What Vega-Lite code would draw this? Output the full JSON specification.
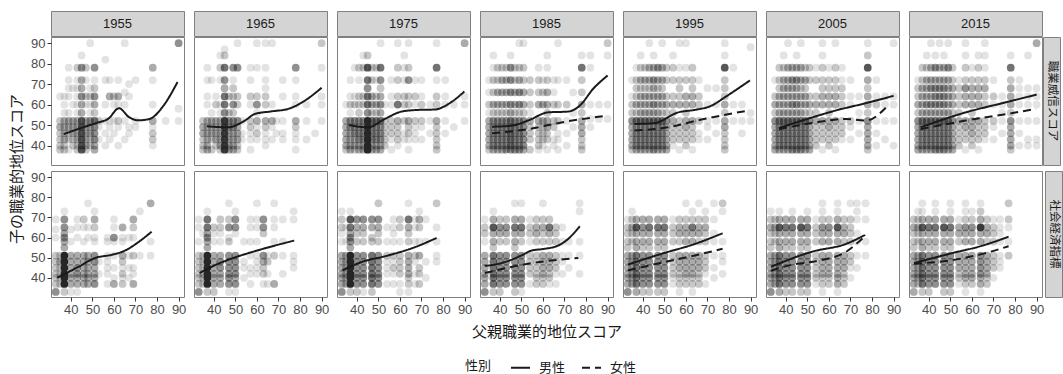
{
"$schema":"https://vega.github.io/schema/vega-lite/v6.json",
"padding":{"left":9,"top":10,"right":0,"bottom":0},
"autosize":{"type":"pad"},
"datasets":{
"pts":[
{"p":"P55","x":35,"y":[38,40,43,46,49,52,64],"n":[2,2,2,2,3,2,1]},
{"p":"P55","x":37,"y":[38,40,43,46,49,52,56,60,64],"n":[2,2,3,3,3,3,1,1,1]},
{"p":"P55","x":39,"y":[38,43,46,49,52,56,64,68,72,78],"n":[1,2,2,3,3,1,1,1,1,1]},
{"p":"P55","x":41,"y":[40,43,46,49,52,60,68],"n":[2,2,3,3,3,1,1]},
{"p":"P55","x":43,"y":[38,40,43,46,49,52,56,60,64,68,72,78],"n":[2,2,3,3,3,3,1,1,1,1,1,2]},
{"p":"P55","x":45,"y":[38,40,43,46,49,52,56,60,64,68,72,78,84],"n":[6,6,6,6,6,6,3,3,4,3,3,4,1]},
{"p":"P55","x":47,"y":[38,40,43,46,49,52,60,64,72,78],"n":[2,3,3,3,3,3,1,2,1,2]},
{"p":"P55","x":49,"y":[40,43,46,49,52,56,60,64,68,90],"n":[2,2,3,3,4,1,1,2,1,1]},
{"p":"P55","x":51,"y":[38,40,43,46,49,52,56,60,64,68,72,78],"n":[3,3,4,4,4,5,2,3,4,2,1,4]},
{"p":"P55","x":53,"y":[43,49,52],"n":[1,1,2]},
{"p":"P55","x":56,"y":[40,46,52,60,72,82],"n":[1,1,1,1,1,1]},
{"p":"P55","x":58,"y":[43,49,52,64,72],"n":[1,1,1,3,1]},
{"p":"P55","x":60,"y":[46,52,60,64],"n":[1,1,1,2]},
{"p":"P55","x":62,"y":[40,49,52,60,64,72],"n":[1,1,2,1,3,1]},
{"p":"P55","x":65,"y":[43,52,60,66,90],"n":[1,1,1,1,1]},
{"p":"P55","x":67,"y":[46,49,64,70],"n":[1,1,1,1]},
{"p":"P55","x":70,"y":[49,52,72],"n":[1,1,1]},
{"p":"P55","x":78,"y":[40,43,46,49,52,60,72,78],"n":[1,2,2,1,3,1,1,3]},
{"p":"P55","x":84,"y":[52],"n":[1]},
{"p":"P55","x":90,"y":[52,58,90],"n":[1,1,4]},
{"p":"P65","x":35,"y":[38,40,43,46,49,52],"n":[2,2,2,3,3,2]},
{"p":"P65","x":37,"y":[38,40,43,46,49,52,60,64,72,78],"n":[3,3,3,3,3,3,1,1,1,1]},
{"p":"P65","x":39,"y":[38,43,46,49,52,56,72],"n":[2,2,3,3,3,1,1]},
{"p":"P65","x":41,"y":[40,43,46,49,52,60,64],"n":[2,3,3,3,3,2,1]},
{"p":"P65","x":43,"y":[38,40,43,46,49,52,56,60,72,78,84],"n":[2,3,3,3,3,3,1,1,1,2,1]},
{"p":"P65","x":45,"y":[38,40,43,46,49,52,56,60,64,68,72,78,84,87],"n":[7,7,7,7,7,7,4,5,5,3,4,5,2,1]},
{"p":"P65","x":47,"y":[38,40,43,46,49,52,56,64],"n":[3,3,3,3,4,4,2,2]},
{"p":"P65","x":49,"y":[38,40,43,46,49,52,56,60,64,68,72,78],"n":[3,3,3,3,4,4,2,4,2,2,1,4]},
{"p":"P65","x":51,"y":[38,40,43,46,49,52,60,64,78,90],"n":[2,2,3,3,3,4,2,2,4,1]},
{"p":"P65","x":53,"y":[43,46,52],"n":[1,1,1]},
{"p":"P65","x":57,"y":[38,43,46,49,52,60,64,72,78],"n":[1,1,1,2,2,1,2,1,1]},
{"p":"P65","x":60,"y":[43,46,49,52,56,60,64,78,90],"n":[1,2,1,3,1,4,2,1,1]},
{"p":"P65","x":64,"y":[40,43,46,49,52,60,64,68,72,78,90],"n":[1,1,1,2,3,2,2,1,1,1,1]},
{"p":"P65","x":67,"y":[43,49,52,60,90],"n":[1,1,3,1,1]},
{"p":"P65","x":69,"y":[46,52],"n":[1,1]},
{"p":"P65","x":72,"y":[43,46,52,64,72],"n":[1,1,1,1,1]},
{"p":"P65","x":78,"y":[38,43,46,49,52,60,64,72,78],"n":[1,1,1,2,3,1,1,1,4]},
{"p":"P65","x":83,"y":[43,52,60],"n":[1,1,1]},
{"p":"P65","x":87,"y":[46],"n":[1]},
{"p":"P65","x":90,"y":[52,60,64,78,90],"n":[1,1,1,1,2]},
{"p":"P75","x":35,"y":[38,40,43,46,49,52,60],"n":[2,3,3,3,3,3,1]},
{"p":"P75","x":37,"y":[38,40,43,46,49,52,56,60,64,72],"n":[3,3,3,3,4,4,1,2,1,1]},
{"p":"P75","x":39,"y":[38,40,43,46,49,52,60,64,78],"n":[2,3,3,4,4,4,2,1,1]},
{"p":"P75","x":41,"y":[38,40,43,46,49,52,56,60,64,72,78],"n":[3,3,4,4,4,4,2,2,2,1,2]},
{"p":"P75","x":43,"y":[38,40,43,46,49,52,60,64,78,84],"n":[3,3,4,4,4,4,2,2,2,1]},
{"p":"P75","x":45,"y":[38,40,43,46,49,52,56,60,64,68,72,78,84],"n":[8,8,8,8,8,8,4,5,5,4,5,6,2]},
{"p":"P75","x":47,"y":[38,40,43,46,49,52,56,60,64,72,78],"n":[3,3,4,4,4,5,2,3,3,2,2]},
{"p":"P75","x":49,"y":[38,40,43,46,49,52,56,60,64,72,78],"n":[3,3,4,4,4,5,2,3,2,1,2]},
{"p":"P75","x":51,"y":[38,40,43,46,49,52,56,60,64,68,72,78,90],"n":[3,3,4,4,4,5,3,4,3,2,4,5,1]},
{"p":"P75","x":53,"y":[40,43,46,49,52,60],"n":[2,2,2,2,2,1]},
{"p":"P75","x":56,"y":[38,43,46,49,52,60,64,72],"n":[1,1,2,2,2,1,1,1]},
{"p":"P75","x":59,"y":[40,43,46,49,52,60,64,72,78,90],"n":[1,2,2,2,3,5,2,2,2,1]},
{"p":"P75","x":62,"y":[43,46,52,60,64,72,78,84],"n":[1,1,2,2,2,1,1,1]},
{"p":"P75","x":64,"y":[38,43,46,49,52,60,64,72,78,90],"n":[1,1,2,2,3,2,2,4,2,1]},
{"p":"P75","x":67,"y":[43,46,49,52,60,64,72],"n":[1,1,1,2,1,2,1]},
{"p":"P75","x":70,"y":[43,49,52,60,64,72],"n":[1,1,2,2,1,1]},
{"p":"P75","x":74,"y":[46,52,60],"n":[1,1,1]},
{"p":"P75","x":77,"y":[38,40,43,46,49,52,60,64,72,78,90],"n":[2,2,2,2,2,3,2,2,1,5,1]},
{"p":"P75","x":81,"y":[46,52,60,64,72],"n":[1,1,1,1,1]},
{"p":"P75","x":85,"y":[49,60],"n":[1,1]},
{"p":"P75","x":90,"y":[52,60,64,90],"n":[1,1,1,3]},
{"p":"P85","x":35,"y":[38,40,43,46,49,52,56,60,66,72],"n":[2,3,3,3,3,3,1,2,1,1]},
{"p":"P85","x":37,"y":[38,40,43,46,49,52,56,60,66,72,78,84],"n":[3,4,4,4,4,4,2,3,2,2,1,1]},
{"p":"P85","x":39,"y":[38,40,43,46,49,52,56,60,66,72,78],"n":[3,4,4,4,4,4,2,3,3,2,2]},
{"p":"P85","x":41,"y":[38,40,43,46,49,52,56,60,66,72,78],"n":[3,4,4,4,4,4,2,3,3,3,2]},
{"p":"P85","x":43,"y":[38,40,43,46,49,52,56,60,66,72,78],"n":[4,4,4,4,4,4,2,3,3,3,2]},
{"p":"P85","x":45,"y":[38,40,43,46,49,52,56,60,66,72,78,84],"n":[4,5,5,5,5,5,3,4,4,4,4,1]},
{"p":"P85","x":47,"y":[38,40,43,46,49,52,56,60,66,72,78],"n":[4,4,4,4,4,4,2,3,3,2,2]},
{"p":"P85","x":49,"y":[38,40,43,46,49,52,56,60,66,72,78,90],"n":[4,4,4,4,4,4,2,4,4,3,2,1]},
{"p":"P85","x":51,"y":[38,40,43,46,49,52,56,60,66,72,78,90],"n":[3,4,4,4,4,4,2,3,3,2,2,1]},
{"p":"P85","x":54,"y":[38,43,46,49,52,56,60,66,72],"n":[2,2,2,2,3,1,2,2,2]},
{"p":"P85","x":58,"y":[38,40,43,46,49,52,60,66,72,78],"n":[1,2,2,2,2,3,3,2,2,1]},
{"p":"P85","x":60,"y":[40,43,46,49,52,60,66,72],"n":[1,2,2,2,3,3,2,1]},
{"p":"P85","x":62,"y":[38,43,46,49,52,56,60,66,72,78,84],"n":[1,2,2,3,3,2,3,3,2,1,1]},
{"p":"P85","x":65,"y":[40,43,49,52,60,66,72],"n":[1,1,2,2,2,1,1]},
{"p":"P85","x":67,"y":[38,43,46,52,60,72,90],"n":[1,1,1,2,2,1,1]},
{"p":"P85","x":71,"y":[40,46,52,60,72],"n":[1,1,1,2,1]},
{"p":"P85","x":74,"y":[49,56,66],"n":[1,1,1]},
{"p":"P85","x":78,"y":[38,40,43,46,49,52,56,60,66,72,78,84],"n":[2,2,2,3,3,3,2,3,2,2,5,1]},
{"p":"P85","x":82,"y":[49,53,60,78,84],"n":[1,1,1,1,1]},
{"p":"P85","x":86,"y":[53,60],"n":[1,1]},
{"p":"P85","x":90,"y":[53,60,84,90],"n":[1,1,1,2]},
{"p":"P95","x":35,"y":[38,40,43,46,49,52,56,60,64,72],"n":[2,3,3,3,3,4,2,2,1,1]},
{"p":"P95","x":37,"y":[38,40,43,46,49,52,56,60,64,68,72,78],"n":[3,4,4,4,4,5,2,3,2,2,2,1]},
{"p":"P95","x":39,"y":[38,40,43,46,49,52,56,60,64,68,72,78,84],"n":[3,4,4,4,4,5,3,3,3,2,3,2,1]},
{"p":"P95","x":41,"y":[38,40,43,46,49,52,56,60,64,68,72,78],"n":[3,4,4,4,4,5,3,3,3,2,3,2]},
{"p":"P95","x":43,"y":[38,40,43,46,49,52,56,60,64,68,72,78,90],"n":[3,4,4,4,4,5,3,3,3,2,3,3,1]},
{"p":"P95","x":45,"y":[38,40,43,46,49,52,56,60,64,68,72,78,84],"n":[4,4,4,4,4,5,3,4,3,3,4,3,1]},
{"p":"P95","x":47,"y":[38,40,43,46,49,52,56,60,64,68,72,78],"n":[3,4,4,4,4,5,3,3,3,2,3,4]},
{"p":"P95","x":49,"y":[38,40,43,46,49,52,56,60,64,68,72,78,90],"n":[3,4,4,4,4,5,2,3,3,2,3,3,1]},
{"p":"P95","x":51,"y":[38,40,43,46,49,52,56,60,64,72,78],"n":[3,3,3,3,3,4,2,3,2,2,2]},
{"p":"P95","x":54,"y":[40,43,46,49,52,56,60,64,72,78,84],"n":[1,2,2,2,3,2,3,2,2,2,1]},
{"p":"P95","x":57,"y":[38,43,46,49,52,60,64,68,72,78,90],"n":[1,2,2,2,2,3,2,2,2,1,1]},
{"p":"P95","x":60,"y":[40,43,46,49,52,56,60,64,72,78,90],"n":[2,2,2,3,3,2,3,3,2,1,1]},
{"p":"P95","x":63,"y":[38,43,46,49,52,60,64,68,72,78],"n":[1,2,2,2,3,3,3,2,2,2]},
{"p":"P95","x":66,"y":[43,46,52,60,64,72],"n":[1,1,2,2,2,1]},
{"p":"P95","x":70,"y":[43,49,52,60,68],"n":[1,1,1,1,1]},
{"p":"P95","x":74,"y":[46,52,60,68],"n":[1,1,1,1]},
{"p":"P95","x":78,"y":[38,40,43,46,49,52,56,60,64,68,72,78,84,90],"n":[2,2,2,2,3,3,2,3,2,2,2,6,1,1]},
{"p":"P95","x":82,"y":[52,60,78],"n":[1,1,1]},
{"p":"P95","x":86,"y":[46,52,60],"n":[1,1,1]},
{"p":"P95","x":90,"y":[52,56,88],"n":[1,1,1]},
{"p":"P05","x":35,"y":[38,40,43,46,49,52,56,60,64,72],"n":[3,3,3,3,3,4,2,3,2,1]},
{"p":"P05","x":37,"y":[38,40,43,46,49,52,56,60,64,68,72,78],"n":[3,4,4,4,4,5,3,3,3,2,2,2]},
{"p":"P05","x":39,"y":[38,40,43,46,49,52,56,60,64,68,72,78,84],"n":[3,4,4,4,4,5,3,3,3,3,3,2,1]},
{"p":"P05","x":41,"y":[38,40,43,46,49,52,56,60,64,68,72,78,90],"n":[3,4,4,4,4,5,3,3,3,3,3,3,1]},
{"p":"P05","x":43,"y":[38,40,43,46,49,52,56,60,64,68,72,78],"n":[4,4,4,4,4,5,3,4,3,3,4,3]},
{"p":"P05","x":45,"y":[38,40,43,46,49,52,56,60,64,68,72,78,84],"n":[4,4,4,4,4,5,3,4,3,3,4,3,1]},
{"p":"P05","x":47,"y":[38,40,43,46,49,52,56,60,64,68,72,78,90],"n":[4,4,4,4,4,5,3,3,3,2,3,3,1]},
{"p":"P05","x":49,"y":[38,40,43,46,49,52,56,60,64,68,72,78],"n":[3,4,4,4,4,5,2,3,3,2,3,2]},
{"p":"P05","x":51,"y":[38,40,43,46,49,52,56,60,64,72,78],"n":[3,3,3,3,3,4,2,3,2,2,2]},
{"p":"P05","x":54,"y":[40,43,46,49,52,56,60,64,72,78],"n":[2,2,2,2,3,2,3,2,2,1]},
{"p":"P05","x":57,"y":[38,43,46,49,52,60,64,68,72,78,84,90],"n":[1,2,2,2,3,3,3,2,2,2,1,1]},
{"p":"P05","x":60,"y":[40,43,46,49,52,56,60,64,68,72,78],"n":[2,2,2,3,3,2,3,3,2,2,1]},
{"p":"P05","x":63,"y":[38,43,46,49,52,60,64,68,72,78,90],"n":[1,2,2,2,3,3,3,2,2,2,1]},
{"p":"P05","x":66,"y":[43,46,49,52,60,64,68,72,78],"n":[1,2,2,2,2,2,2,1,1]},
{"p":"P05","x":70,"y":[43,49,52,60,64,72],"n":[1,1,2,1,1,1]},
{"p":"P05","x":74,"y":[46,52,56,64],"n":[1,1,1,1]},
{"p":"P05","x":78,"y":[38,40,43,46,49,52,56,60,64,68,72,78,84,90],"n":[2,3,3,3,3,4,2,3,3,2,3,6,2,1]},
{"p":"P05","x":82,"y":[40,46,52,60,64,72],"n":[1,1,1,2,1,1]},
{"p":"P05","x":86,"y":[43,52,60,64],"n":[1,1,1,1]},
{"p":"P05","x":90,"y":[40,52,60,64,90],"n":[1,1,1,1,1]},
{"p":"P15","x":35,"y":[38,40,43,46,49,52,56,60,64,68,72],"n":[3,3,3,3,3,4,2,3,2,2,1]},
{"p":"P15","x":37,"y":[38,40,43,46,49,52,56,60,64,68,72,78],"n":[3,4,4,4,4,5,3,3,3,3,2,2]},
{"p":"P15","x":39,"y":[38,40,43,46,49,52,56,60,64,68,72,78,84],"n":[3,4,4,4,4,5,3,4,3,3,3,2,1]},
{"p":"P15","x":41,"y":[38,40,43,46,49,52,56,60,64,68,72,78,90],"n":[3,4,4,4,4,5,3,4,3,4,3,3,1]},
{"p":"P15","x":43,"y":[38,40,43,46,49,52,56,60,64,68,72,78,84],"n":[4,4,4,4,4,5,3,4,4,4,3,4,1]},
{"p":"P15","x":45,"y":[38,40,43,46,49,52,56,60,64,68,72,78,90],"n":[4,4,4,4,4,5,3,4,4,4,3,3,1]},
{"p":"P15","x":47,"y":[38,40,43,46,49,52,56,60,64,68,72,78,84],"n":[4,4,4,4,4,5,3,4,4,4,3,3,1]},
{"p":"P15","x":49,"y":[38,40,43,46,49,52,56,60,64,68,72,78,90],"n":[3,4,4,4,4,5,3,3,3,3,3,4,1]},
{"p":"P15","x":51,"y":[38,40,43,46,49,52,56,60,64,68,72,78],"n":[3,3,3,3,3,4,2,3,3,3,2,2]},
{"p":"P15","x":54,"y":[40,43,46,49,52,56,60,64,68,72],"n":[2,2,2,2,3,2,2,2,2,1]},
{"p":"P15","x":57,"y":[38,43,46,49,52,60,64,68,72,78,84,90],"n":[1,2,2,3,3,3,3,4,2,2,1,1]},
{"p":"P15","x":60,"y":[40,43,46,49,52,56,60,64,68,72,78],"n":[2,2,3,3,3,2,3,3,3,2,1]},
{"p":"P15","x":63,"y":[38,43,46,49,52,60,64,68,72,78,84],"n":[1,2,2,2,3,3,3,3,2,2,1]},
{"p":"P15","x":66,"y":[43,46,49,52,60,64,68,72,78,84,90],"n":[1,2,2,2,2,2,3,2,1,1,1]},
{"p":"P15","x":70,"y":[43,49,52,60,64,72],"n":[1,1,2,1,2,1]},
{"p":"P15","x":74,"y":[46,52,56,60,64],"n":[1,1,1,1,1]},
{"p":"P15","x":78,"y":[38,40,43,46,49,52,56,60,64,68,72,78,84],"n":[2,3,3,3,3,4,2,3,3,3,2,5,1]},
{"p":"P15","x":82,"y":[40,46,52,60,64,68,72],"n":[1,1,1,1,1,1,1]},
{"p":"P15","x":86,"y":[40,43,52,60,64,68,84],"n":[1,1,1,1,1,1,1]},
{"p":"P15","x":90,"y":[40,43,52,60,64,68,90],"n":[1,1,1,1,1,1,3]},
{"p":"S55","x":33,"y":[33,37,40,42,45,48,51,60,64,69],"n":[4,2,2,2,2,2,2,1,1,1]},
{"p":"S55","x":35,"y":[37,40,42,45,48,51],"n":[2,2,2,2,3,2]},
{"p":"S55","x":37,"y":[33,37,40,42,45,48,51,55,58,60,62,65,69,73],"n":[2,8,8,8,8,8,8,3,3,4,3,4,4,1]},
{"p":"S55","x":40,"y":[33,37,40,42,45,48,51,58,64],"n":[1,3,3,3,3,3,3,1,1]},
{"p":"S55","x":43,"y":[33,37,40,42,45,48,51,60,65,69],"n":[1,3,3,4,4,3,3,1,1,1]},
{"p":"S55","x":46,"y":[37,40,42,45,48,51,58,65,69],"n":[3,3,3,3,3,3,1,1,2]},
{"p":"S55","x":48,"y":[37,40,42,45,48,51,60,65,77],"n":[3,3,3,3,3,3,1,1,1]},
{"p":"S55","x":51,"y":[37,40,42,45,48,51,58,60,65,69,73],"n":[4,3,3,3,4,4,1,1,2,3,1]},
{"p":"S55","x":53,"y":[42,48],"n":[1,1]},
{"p":"S55","x":57,"y":[37,42,45,48,51,58,60],"n":[1,1,1,1,1,1,1]},
{"p":"S55","x":60,"y":[37,40,45,51,58,60,65,69],"n":[3,1,1,1,1,4,1,1]},
{"p":"S55","x":64,"y":[37,40,42,45,48,51,58,60,65],"n":[2,1,2,1,2,3,1,1,3]},
{"p":"S55","x":67,"y":[40,45,51,60],"n":[1,1,1,1]},
{"p":"S55","x":69,"y":[37,42,45,51,60,65,69],"n":[3,1,1,2,1,2,3]},
{"p":"S55","x":72,"y":[51,73],"n":[1,1]},
{"p":"S55","x":77,"y":[51,58,77],"n":[1,1,3]},
{"p":"S65","x":33,"y":[33,37,40,42,45,48,51,58,65,69],"n":[4,2,2,2,2,2,2,1,1,1]},
{"p":"S65","x":35,"y":[37,40,42,45,48,51,62],"n":[2,2,2,2,2,2,1]},
{"p":"S65","x":37,"y":[33,37,40,42,45,48,51,55,58,60,62,65,69,73],"n":[2,8,8,8,8,8,8,3,3,4,3,5,5,1]},
{"p":"S65","x":40,"y":[33,37,40,42,45,48,51,58,62,65],"n":[2,3,3,3,3,3,3,1,1,2]},
{"p":"S65","x":43,"y":[37,40,42,45,48,51,58,62,65,69],"n":[3,3,3,4,4,3,1,1,2,2]},
{"p":"S65","x":47,"y":[33,37,40,42,45,48,51,58,60,65,69,77],"n":[1,4,4,4,4,4,4,2,1,4,2,1]},
{"p":"S65","x":50,"y":[33,37,40,42,45,48,51,62,65,69,73],"n":[1,4,3,4,4,4,4,1,4,4,1]},
{"p":"S65","x":54,"y":[40,45,48,58],"n":[1,1,1,1]},
{"p":"S65","x":57,"y":[37,42,45,51,58,65,69],"n":[1,1,1,1,1,1,1]},
{"p":"S65","x":60,"y":[42,45,48,51,58,65,69,77],"n":[1,1,1,1,1,1,1,1]},
{"p":"S65","x":63,"y":[37,42,45,48,51,62,65,69],"n":[1,2,2,3,4,2,4,4]},
{"p":"S65","x":65,"y":[37,42,48,51],"n":[1,1,2,1]},
{"p":"S65","x":68,"y":[37,51,58,65,69,77],"n":[3,2,1,1,1,1]},
{"p":"S65","x":72,"y":[42,51,58,69],"n":[1,1,1,1]},
{"p":"S65","x":77,"y":[45,48,51,69,73],"n":[1,1,1,1,1]},
{"p":"S75","x":33,"y":[33,37,40,42,45,48,51,58,62,65,69,73],"n":[4,3,3,3,3,3,3,1,1,2,2,1]},
{"p":"S75","x":35,"y":[37,40,42,45,48,51,58,65],"n":[3,3,3,3,3,3,1,1]},
{"p":"S75","x":37,"y":[33,37,40,42,45,48,51,55,58,60,62,65,69,73],"n":[2,8,8,8,8,8,8,3,4,4,3,5,6,1]},
{"p":"S75","x":40,"y":[33,37,40,42,45,48,51,58,62,65,69],"n":[2,4,4,4,4,4,4,2,2,3,4]},
{"p":"S75","x":43,"y":[33,37,40,42,45,48,51,58,62,65,69],"n":[1,4,4,4,4,4,4,2,2,3,4]},
{"p":"S75","x":47,"y":[33,37,40,42,45,48,51,58,60,65,69],"n":[2,5,5,5,5,5,5,2,2,3,4]},
{"p":"S75","x":50,"y":[37,40,42,45,48,51,58,62,65,69,77],"n":[4,4,4,4,4,4,2,2,3,4,2]},
{"p":"S75","x":54,"y":[37,42,45,48,51,58,65],"n":[1,1,1,1,2,1,1]},
{"p":"S75","x":57,"y":[37,42,45,48,51,58,62,65,69],"n":[1,1,2,1,2,1,1,1,1]},
{"p":"S75","x":60,"y":[33,37,42,45,48,51,58,65,69],"n":[1,1,2,2,2,2,1,2,2]},
{"p":"S75","x":64,"y":[33,37,40,42,45,48,51,58,62,65,69,77],"n":[1,2,2,3,3,3,3,2,2,3,5,1]},
{"p":"S75","x":67,"y":[37,42,48,51,58,65,69],"n":[1,1,1,2,1,1,1]},
{"p":"S75","x":69,"y":[37,42,45,51,58,65,69,73],"n":[2,2,2,3,1,2,3,1]},
{"p":"S75","x":72,"y":[40,48,58,69],"n":[1,1,1,1]},
{"p":"S75","x":77,"y":[48,51,58,65,77],"n":[1,1,1,1,2]},
{"p":"S85","x":33,"y":[33,37,40,42,45,48,51,58,62,65,69],"n":[4,3,3,3,3,3,3,1,2,2,1]},
{"p":"S85","x":37,"y":[33,37,40,42,45,48,51,55,58,62,65,69,73],"n":[2,5,5,5,5,5,5,2,3,3,6,3,1]},
{"p":"S85","x":40,"y":[33,37,40,42,45,48,51,58,62,65,69],"n":[2,4,4,4,4,4,4,2,3,4,2]},
{"p":"S85","x":43,"y":[37,40,42,45,48,51,58,62,65,69],"n":[4,4,4,4,4,4,2,3,4,2]},
{"p":"S85","x":47,"y":[33,37,40,42,45,48,51,55,58,62,65,69,77],"n":[2,4,4,4,4,4,4,2,3,3,5,3,1]},
{"p":"S85","x":50,"y":[33,37,40,42,45,48,51,58,62,65,69,77],"n":[1,4,4,4,4,4,4,2,3,5,3,1]},
{"p":"S85","x":54,"y":[37,42,45,48,51,58,62,65,69],"n":[1,2,2,2,2,1,2,2,1]},
{"p":"S85","x":57,"y":[37,40,42,45,48,51,58,62,65,69],"n":[2,2,2,2,2,2,2,3,3,2]},
{"p":"S85","x":60,"y":[37,40,42,45,48,51,58,62,65,69,77],"n":[2,2,3,3,3,3,2,2,3,2,1]},
{"p":"S85","x":63,"y":[37,40,42,45,48,51,58,62,65,69],"n":[1,2,2,3,3,3,2,3,5,2]},
{"p":"S85","x":66,"y":[37,42,45,48,51,58,62,65],"n":[1,1,2,2,2,2,2,2]},
{"p":"S85","x":69,"y":[42,48,51,58,65],"n":[1,1,1,1,1]},
{"p":"S85","x":72,"y":[45,51,58],"n":[1,1,1]},
{"p":"S85","x":77,"y":[42,51,58,73,77],"n":[1,1,1,1,1]},
{"p":"S95","x":33,"y":[33,37,40,42,45,48,51,55,58,62,65,69],"n":[4,3,3,3,3,3,3,2,2,2,2,1]},
{"p":"S95","x":35,"y":[37,40,42,45,48,51,58,62,65,69,73],"n":[3,3,3,3,3,3,2,2,3,2,1]},
{"p":"S95","x":37,"y":[33,37,40,42,45,48,51,55,58,62,65,69],"n":[3,5,5,5,5,5,5,3,3,3,6,3]},
{"p":"S95","x":40,"y":[33,37,40,42,45,48,51,55,58,62,65,69],"n":[2,4,4,4,4,4,4,2,3,3,4,3]},
{"p":"S95","x":43,"y":[33,37,40,42,45,48,51,55,58,62,65,69],"n":[2,4,4,4,4,4,4,2,3,3,5,3]},
{"p":"S95","x":47,"y":[33,37,40,42,45,48,51,55,58,62,65,69],"n":[2,4,4,4,4,4,4,2,3,3,5,3]},
{"p":"S95","x":50,"y":[33,37,40,42,45,48,51,55,58,62,65,69],"n":[2,4,4,4,4,4,4,2,3,3,5,3]},
{"p":"S95","x":54,"y":[37,40,42,45,48,51,58,62,65,69],"n":[1,1,2,2,2,2,2,2,2,1]},
{"p":"S95","x":57,"y":[33,37,40,42,45,48,51,58,62,65,69],"n":[1,2,2,2,3,3,3,2,3,3,2]},
{"p":"S95","x":60,"y":[37,40,42,45,48,51,58,62,65,69,77],"n":[2,2,3,3,3,3,3,3,3,2,1]},
{"p":"S95","x":63,"y":[33,37,40,42,45,48,51,58,62,65,69,73],"n":[1,2,2,3,3,3,3,3,3,5,2,1]},
{"p":"S95","x":66,"y":[37,40,42,45,48,51,58,62,65,69,77],"n":[2,2,2,3,3,3,2,3,3,2,1]},
{"p":"S95","x":69,"y":[37,42,45,48,51,58,62,65,69,73],"n":[1,1,2,2,2,2,2,3,2,1]},
{"p":"S95","x":73,"y":[40,45,51,58,62,69,77],"n":[1,1,1,1,1,1,1]},
{"p":"S95","x":77,"y":[42,48,51,58,73,77],"n":[1,1,1,1,1,2]},
{"p":"S05","x":33,"y":[33,37,40,42,45,48,51,55,58,62,65,69,73],"n":[4,3,3,3,3,3,3,2,2,2,3,2,1]},
{"p":"S05","x":35,"y":[37,40,42,45,48,51,58,62,65,69],"n":[3,3,3,3,3,3,2,2,3,2]},
{"p":"S05","x":37,"y":[33,37,40,42,45,48,51,55,58,62,65,69,73],"n":[3,5,5,5,5,5,5,3,3,3,6,3,1]},
{"p":"S05","x":40,"y":[33,37,40,42,45,48,51,55,58,62,65,69],"n":[2,4,4,4,4,4,4,2,3,3,5,3]},
{"p":"S05","x":43,"y":[33,37,40,42,45,48,51,55,58,62,65,69,73],"n":[2,4,4,4,4,4,4,2,3,3,5,3,1]},
{"p":"S05","x":47,"y":[33,37,40,42,45,48,51,55,58,62,65,69],"n":[2,4,4,4,4,4,4,2,3,3,6,3]},
{"p":"S05","x":50,"y":[33,37,40,42,45,48,51,55,58,62,65,69,73],"n":[2,4,4,4,4,4,4,2,3,3,5,3,1]},
{"p":"S05","x":54,"y":[37,40,42,45,48,51,58,62,65,69],"n":[1,2,2,2,2,2,2,2,2,1]},
{"p":"S05","x":57,"y":[33,37,40,42,45,48,51,58,62,65,69,73,77],"n":[1,2,2,3,3,3,3,3,3,4,2,1,1]},
{"p":"S05","x":60,"y":[37,40,42,45,48,51,58,62,65,69],"n":[2,2,3,3,3,3,3,3,4,2]},
{"p":"S05","x":64,"y":[33,37,40,42,45,48,51,58,62,65,69,73,77],"n":[1,3,3,3,3,3,3,3,3,6,3,1,1]},
{"p":"S05","x":67,"y":[37,40,42,45,48,51,58,62,65,69],"n":[2,2,2,3,3,3,2,3,3,2]},
{"p":"S05","x":70,"y":[40,45,48,51,58,62,65,69,77],"n":[1,1,2,2,2,2,2,2,1]},
{"p":"S05","x":73,"y":[45,51,58,62,69,73,77],"n":[1,1,1,1,1,1,1]},
{"p":"S05","x":77,"y":[51,58,69,77],"n":[1,1,1,1]},
{"p":"S15","x":33,"y":[33,37,40,42,45,48,51,55,58,62,65,69],"n":[3,3,3,3,3,3,3,2,2,2,3,2]},
{"p":"S15","x":35,"y":[37,40,42,45,48,51,58,62,65,69,73],"n":[2,3,3,3,3,3,2,2,3,2,1]},
{"p":"S15","x":37,"y":[33,37,40,42,45,48,51,55,58,62,65,69,73,77],"n":[2,5,5,5,5,5,5,3,3,3,6,3,1,1]},
{"p":"S15","x":40,"y":[33,37,40,42,45,48,51,55,58,62,65,69],"n":[2,4,4,4,4,4,4,2,3,3,5,3]},
{"p":"S15","x":43,"y":[37,40,42,45,48,51,55,58,62,65,69,73,77],"n":[4,4,4,4,4,4,2,3,3,5,3,1,1]},
{"p":"S15","x":47,"y":[33,37,40,42,45,48,51,55,58,62,65,69],"n":[2,4,4,4,4,4,4,2,3,3,6,3]},
{"p":"S15","x":50,"y":[33,37,40,42,45,48,51,55,58,62,65,69,73,77],"n":[2,4,4,4,4,4,4,2,3,3,5,3,1,1]},
{"p":"S15","x":54,"y":[37,40,42,45,48,51,58,62,65,69],"n":[1,2,2,3,3,3,2,3,3,1]},
{"p":"S15","x":57,"y":[33,37,40,42,45,48,51,58,62,65,69,73,77],"n":[1,2,3,3,3,3,3,3,3,4,2,1,1]},
{"p":"S15","x":60,"y":[37,40,42,45,48,51,58,62,65,69,73],"n":[2,3,3,3,3,3,3,3,4,2,1]},
{"p":"S15","x":64,"y":[33,37,40,42,45,48,51,58,62,65,69,73,77],"n":[1,3,3,4,4,4,4,3,3,7,3,2,1]},
{"p":"S15","x":67,"y":[37,40,42,45,48,51,58,62,65,69],"n":[2,2,3,3,3,3,2,3,3,2]},
{"p":"S15","x":70,"y":[40,45,48,51,58,62,65,69],"n":[1,2,2,2,2,2,2,1]},
{"p":"S15","x":73,"y":[45,48,51,58,62,65,69],"n":[1,1,1,1,1,1,1]},
{"p":"S15","x":77,"y":[51,58,65,69,77],"n":[2,1,1,2,2]}
],
"lns":[
{"p":"P55","s":"男性","x":[36.7,45.7,52.7,57.3,62.3,67.1,71.3,76.5,83,89.5],"y":[45.6,48.9,51.3,53,58.2,53.8,52.3,53,59.5,71]},
{"p":"P65","s":"男性","x":[36.8,46.6,54.4,59,66.8,74.5,82.3,90],"y":[49.4,48.9,52.2,55.4,56.7,57.9,62,68.2]},
{"p":"P75","s":"男性","x":[36.4,45.2,53,60.8,68.5,76.3,82.5,89.9],"y":[50,48.9,53,56.6,57.4,57.6,60.3,66.4]},
{"p":"P85","s":"男性","x":[36.4,45.4,53.1,62.4,71.7,77.1,83.3,90],"y":[49.2,49.7,52.2,56.2,56.6,59.5,67.7,74.2]},
{"p":"P85","s":"女性","x":[36.4,53.1,68.6,90],"y":[46,48,51.3,54.6]},
{"p":"P95","s":"男性","x":[36.2,45.5,56.4,64.1,71.9,78.1,89.7],"y":[50.5,51,56.2,57.4,59.5,63.6,71.8]},
{"p":"P95","s":"女性","x":[36.2,51.7,67.2,89],"y":[47.3,48.9,52.7,57.1]},
{"p":"P05","s":"男性","x":[36.8,47.6,63.1,78.7,90],"y":[48.5,52.2,57.1,61.1,64.3]},
{"p":"P05","s":"女性","x":[36.8,52.3,67.8,77.1,87.6],"y":[48,51,53,52.2,59.8]},
{"p":"P15","s":"男性","x":[36.2,57.1,75.7,90],"y":[48.9,56.2,61.1,64.9]},
{"p":"P15","s":"女性","x":[36.2,57.1,78.9,89.7],"y":[48,52.2,55.9,57.9]},
{"p":"S55","s":"男性","x":[33.7,43.4,51.1,58.8,65.1,71.3,77.5],"y":[40,45.4,49.8,51.4,53.5,57.7,62.9]},
{"p":"S65","s":"男性","x":[33.4,40.4,48.1,59,68.3,77.3],"y":[42.4,46.2,49.5,53.2,56,58.5]},
{"p":"S75","s":"男性","x":[33.3,42.1,54.5,66.9,77],"y":[43.7,47.8,51.1,55.2,59.8]},
{"p":"S85","s":"男性","x":[33,40.7,50,54.6,60.8,67,71.7,77.1],"y":[45.9,47.3,51.1,53.5,54.4,56,59.3,65.6]},
{"p":"S85","s":"女性","x":[33,53.1,76.4],"y":[42.4,47,49.9]},
{"p":"S95","s":"男性","x":[33.1,48.6,64.1,77],"y":[46.6,51.9,56.8,62.1]},
{"p":"S95","s":"女性","x":[33.1,48.6,64.1,77],"y":[43.7,47.5,51.1,54.4]},
{"p":"S05","s":"男性","x":[33.1,52.3,67.8,76.8],"y":[45.5,53,56.8,61.3]},
{"p":"S05","s":"女性","x":[33.1,41.5,55.5,67.8,75.6],"y":[43.5,46.2,48.6,52.8,59.6]},
{"p":"S15","s":"男性","x":[33.1,49.4,64.9,77],"y":[47.3,51.9,56,60.4]},
{"p":"S15","s":"女性","x":[33.1,49.4,64.9,77],"y":[47,48.6,51.9,55.7]}
]
},
"hconcat":[
{"width":16,"height":316,"view":{"stroke":null},"data":{"values":[{"t":"子の職業的地位スコア"}]},"mark":{"type":"text","angle":270,"font":"Noto Sans CJK JP","fontSize":15,"color":"#1a1a1a"},"encoding":{"text":{"field":"t"}}},
{"vconcat":[
 {"vconcat":[
  {"hconcat":[
   {"width":133,"height":25,"view":{"fill":"#d4d4d4","stroke":"#808080"},"data":{"values":[{"t":"1955"}]},"mark":{"type":"text","font":"Liberation Sans","fontSize":13,"color":"#1a1a1a","baseline":"middle"},"encoding":{"text":{"field":"t"},"y":{"datum":61.75,"type":"quantitative","scale":{"domain":[30.5,93],"nice":false,"zero":false},"axis":{"values":[60],"labelColor":"transparent","tickColor":"transparent","title":null}}}},
   {"width":133,"height":25,"view":{"fill":"#d4d4d4","stroke":"#808080"},"data":{"values":[{"t":"1965"}]},"mark":{"type":"text","font":"Liberation Sans","fontSize":13,"color":"#1a1a1a","baseline":"middle"},"encoding":{"text":{"field":"t"}}},
   {"width":133,"height":25,"view":{"fill":"#d4d4d4","stroke":"#808080"},"data":{"values":[{"t":"1975"}]},"mark":{"type":"text","font":"Liberation Sans","fontSize":13,"color":"#1a1a1a","baseline":"middle"},"encoding":{"text":{"field":"t"}}},
   {"width":133,"height":25,"view":{"fill":"#d4d4d4","stroke":"#808080"},"data":{"values":[{"t":"1985"}]},"mark":{"type":"text","font":"Liberation Sans","fontSize":13,"color":"#1a1a1a","baseline":"middle"},"encoding":{"text":{"field":"t"}}},
   {"width":133,"height":25,"view":{"fill":"#d4d4d4","stroke":"#808080"},"data":{"values":[{"t":"1995"}]},"mark":{"type":"text","font":"Liberation Sans","fontSize":13,"color":"#1a1a1a","baseline":"middle"},"encoding":{"text":{"field":"t"}}},
   {"width":133,"height":25,"view":{"fill":"#d4d4d4","stroke":"#808080"},"data":{"values":[{"t":"2005"}]},"mark":{"type":"text","font":"Liberation Sans","fontSize":13,"color":"#1a1a1a","baseline":"middle"},"encoding":{"text":{"field":"t"}}},
   {"width":133,"height":25,"view":{"fill":"#d4d4d4","stroke":"#808080"},"data":{"values":[{"t":"2015"}]},"mark":{"type":"text","font":"Liberation Sans","fontSize":13,"color":"#1a1a1a","baseline":"middle"},"encoding":{"text":{"field":"t"}}}
  ],"spacing":10,"bounds":"flush"},
  {"hconcat":[
   {"hconcat":[
    {"width":133,"height":128,"encoding":{"x":{"field":"x","type":"quantitative","scale":{"domain":[30.8,92.5],"nice":false,"zero":false},"axis":null},"y":{"field":"y","type":"quantitative","scale":{"domain":[30.5,93],"nice":false,"zero":false},"axis":{"values":[40,50,60,70,80,90],"title":null}}},
     "layer":[
      {"data":{"name":"pts"},"transform":[{"filter":"datum.p=='P55'"},{"flatten":["y","n"]}],"mark":{"type":"circle","size":60,"color":"#262626","clip":true},"encoding":{"opacity":{"field":"n","type":"quantitative","scale":{"domain":[1,7],"range":[0.13,0.9]},"legend":null}}},
      {"data":{"name":"lns"},"transform":[{"filter":"datum.p=='P55'"},{"flatten":["x","y"]}],"mark":{"type":"line","color":"#1a1a1a","strokeWidth":2,"interpolate":"monotone","clip":true},"encoding":{"strokeDash":{"field":"s","type":"nominal","scale":{"domain":["男性","女性"],"range":[[1,0],[8,5]]},"legend":{"title":"性別","orient":"none","legendX":456,"legendY":346,"direction":"horizontal","titleOrient":"left","symbolType":"stroke","symbolStrokeWidth":2,"symbolSize":361,"symbolStrokeColor":"#1a1a1a","titlePadding":18,"columnPadding":12,"labelOffset":8}}}}
     ]},
    {"width":133,"height":128,"encoding":{"x":{"field":"x","type":"quantitative","scale":{"domain":[30.8,92.5],"nice":false,"zero":false},"axis":null},"y":{"field":"y","type":"quantitative","scale":{"domain":[30.5,93],"nice":false,"zero":false},"axis":null}},
     "layer":[
      {"data":{"name":"pts"},"transform":[{"filter":"datum.p=='P65'"},{"flatten":["y","n"]}],"mark":{"type":"circle","size":60,"color":"#262626","clip":true},"encoding":{"opacity":{"field":"n","type":"quantitative","scale":{"domain":[1,7],"range":[0.13,0.9]},"legend":null}}},
      {"data":{"name":"lns"},"transform":[{"filter":"datum.p=='P65'"},{"flatten":["x","y"]}],"mark":{"type":"line","color":"#1a1a1a","strokeWidth":2,"interpolate":"monotone","clip":true},"encoding":{"strokeDash":{"field":"s","type":"nominal","scale":{"domain":["男性","女性"],"range":[[1,0],[8,5]]},"legend":{"title":"性別","orient":"none","legendX":456,"legendY":346,"direction":"horizontal","titleOrient":"left","symbolType":"stroke","symbolStrokeWidth":2,"symbolSize":361,"symbolStrokeColor":"#1a1a1a","titlePadding":18,"columnPadding":12,"labelOffset":8}}}}
     ]},
    {"width":133,"height":128,"encoding":{"x":{"field":"x","type":"quantitative","scale":{"domain":[30.8,92.5],"nice":false,"zero":false},"axis":null},"y":{"field":"y","type":"quantitative","scale":{"domain":[30.5,93],"nice":false,"zero":false},"axis":null}},
     "layer":[
      {"data":{"name":"pts"},"transform":[{"filter":"datum.p=='P75'"},{"flatten":["y","n"]}],"mark":{"type":"circle","size":60,"color":"#262626","clip":true},"encoding":{"opacity":{"field":"n","type":"quantitative","scale":{"domain":[1,7],"range":[0.13,0.9]},"legend":null}}},
      {"data":{"name":"lns"},"transform":[{"filter":"datum.p=='P75'"},{"flatten":["x","y"]}],"mark":{"type":"line","color":"#1a1a1a","strokeWidth":2,"interpolate":"monotone","clip":true},"encoding":{"strokeDash":{"field":"s","type":"nominal","scale":{"domain":["男性","女性"],"range":[[1,0],[8,5]]},"legend":{"title":"性別","orient":"none","legendX":456,"legendY":346,"direction":"horizontal","titleOrient":"left","symbolType":"stroke","symbolStrokeWidth":2,"symbolSize":361,"symbolStrokeColor":"#1a1a1a","titlePadding":18,"columnPadding":12,"labelOffset":8}}}}
     ]},
    {"width":133,"height":128,"encoding":{"x":{"field":"x","type":"quantitative","scale":{"domain":[30.8,92.5],"nice":false,"zero":false},"axis":null},"y":{"field":"y","type":"quantitative","scale":{"domain":[30.5,93],"nice":false,"zero":false},"axis":null}},
     "layer":[
      {"data":{"name":"pts"},"transform":[{"filter":"datum.p=='P85'"},{"flatten":["y","n"]}],"mark":{"type":"circle","size":60,"color":"#262626","clip":true},"encoding":{"opacity":{"field":"n","type":"quantitative","scale":{"domain":[1,7],"range":[0.13,0.9]},"legend":null}}},
      {"data":{"name":"lns"},"transform":[{"filter":"datum.p=='P85'"},{"flatten":["x","y"]}],"mark":{"type":"line","color":"#1a1a1a","strokeWidth":2,"interpolate":"monotone","clip":true},"encoding":{"strokeDash":{"field":"s","type":"nominal","scale":{"domain":["男性","女性"],"range":[[1,0],[8,5]]},"legend":{"title":"性別","orient":"none","legendX":456,"legendY":346,"direction":"horizontal","titleOrient":"left","symbolType":"stroke","symbolStrokeWidth":2,"symbolSize":361,"symbolStrokeColor":"#1a1a1a","titlePadding":18,"columnPadding":12,"labelOffset":8}}}}
     ]},
    {"width":133,"height":128,"encoding":{"x":{"field":"x","type":"quantitative","scale":{"domain":[30.8,92.5],"nice":false,"zero":false},"axis":null},"y":{"field":"y","type":"quantitative","scale":{"domain":[30.5,93],"nice":false,"zero":false},"axis":null}},
     "layer":[
      {"data":{"name":"pts"},"transform":[{"filter":"datum.p=='P95'"},{"flatten":["y","n"]}],"mark":{"type":"circle","size":60,"color":"#262626","clip":true},"encoding":{"opacity":{"field":"n","type":"quantitative","scale":{"domain":[1,7],"range":[0.13,0.9]},"legend":null}}},
      {"data":{"name":"lns"},"transform":[{"filter":"datum.p=='P95'"},{"flatten":["x","y"]}],"mark":{"type":"line","color":"#1a1a1a","strokeWidth":2,"interpolate":"monotone","clip":true},"encoding":{"strokeDash":{"field":"s","type":"nominal","scale":{"domain":["男性","女性"],"range":[[1,0],[8,5]]},"legend":{"title":"性別","orient":"none","legendX":456,"legendY":346,"direction":"horizontal","titleOrient":"left","symbolType":"stroke","symbolStrokeWidth":2,"symbolSize":361,"symbolStrokeColor":"#1a1a1a","titlePadding":18,"columnPadding":12,"labelOffset":8}}}}
     ]},
    {"width":133,"height":128,"encoding":{"x":{"field":"x","type":"quantitative","scale":{"domain":[30.8,92.5],"nice":false,"zero":false},"axis":null},"y":{"field":"y","type":"quantitative","scale":{"domain":[30.5,93],"nice":false,"zero":false},"axis":null}},
     "layer":[
      {"data":{"name":"pts"},"transform":[{"filter":"datum.p=='P05'"},{"flatten":["y","n"]}],"mark":{"type":"circle","size":60,"color":"#262626","clip":true},"encoding":{"opacity":{"field":"n","type":"quantitative","scale":{"domain":[1,7],"range":[0.13,0.9]},"legend":null}}},
      {"data":{"name":"lns"},"transform":[{"filter":"datum.p=='P05'"},{"flatten":["x","y"]}],"mark":{"type":"line","color":"#1a1a1a","strokeWidth":2,"interpolate":"monotone","clip":true},"encoding":{"strokeDash":{"field":"s","type":"nominal","scale":{"domain":["男性","女性"],"range":[[1,0],[8,5]]},"legend":{"title":"性別","orient":"none","legendX":456,"legendY":346,"direction":"horizontal","titleOrient":"left","symbolType":"stroke","symbolStrokeWidth":2,"symbolSize":361,"symbolStrokeColor":"#1a1a1a","titlePadding":18,"columnPadding":12,"labelOffset":8}}}}
     ]},
    {"width":133,"height":128,"encoding":{"x":{"field":"x","type":"quantitative","scale":{"domain":[30.8,92.5],"nice":false,"zero":false},"axis":null},"y":{"field":"y","type":"quantitative","scale":{"domain":[30.5,93],"nice":false,"zero":false},"axis":null}},
     "layer":[
      {"data":{"name":"pts"},"transform":[{"filter":"datum.p=='P15'"},{"flatten":["y","n"]}],"mark":{"type":"circle","size":60,"color":"#262626","clip":true},"encoding":{"opacity":{"field":"n","type":"quantitative","scale":{"domain":[1,7],"range":[0.13,0.9]},"legend":null}}},
      {"data":{"name":"lns"},"transform":[{"filter":"datum.p=='P15'"},{"flatten":["x","y"]}],"mark":{"type":"line","color":"#1a1a1a","strokeWidth":2,"interpolate":"monotone","clip":true},"encoding":{"strokeDash":{"field":"s","type":"nominal","scale":{"domain":["男性","女性"],"range":[[1,0],[8,5]]},"legend":{"title":"性別","orient":"none","legendX":456,"legendY":346,"direction":"horizontal","titleOrient":"left","symbolType":"stroke","symbolStrokeWidth":2,"symbolSize":361,"symbolStrokeColor":"#1a1a1a","titlePadding":18,"columnPadding":12,"labelOffset":8}}}}
     ]}
   ],"spacing":10,"bounds":"flush"},
   {"width":17,"height":128,"view":{"fill":"#d4d4d4","stroke":"#808080"},"data":{"values":[{"t":"職業威信スコア"}]},"mark":{"type":"text","angle":90,"font":"Noto Sans CJK JP","fontSize":11.5,"color":"#1a1a1a"},"encoding":{"text":{"field":"t"}}}
  ],"spacing":-1}
 ],"spacing":-1.5},
 {"hconcat":[
  {"hconcat":[
   {"width":133,"height":126,"encoding":{"x":{"field":"x","type":"quantitative","scale":{"domain":[30.8,92.5],"nice":false,"zero":false},"axis":{"values":[40,50,60,70,80,90],"title":null}},"y":{"field":"y","type":"quantitative","scale":{"domain":[30.5,93],"nice":false,"zero":false},"axis":{"values":[40,50,60,70,80,90],"title":null}}},
    "layer":[
     {"data":{"name":"pts"},"transform":[{"filter":"datum.p=='S55'"},{"flatten":["y","n"]}],"mark":{"type":"circle","size":60,"color":"#262626","clip":true},"encoding":{"opacity":{"field":"n","type":"quantitative","scale":{"domain":[1,7],"range":[0.13,0.9]},"legend":null}}},
     {"data":{"name":"lns"},"transform":[{"filter":"datum.p=='S55'"},{"flatten":["x","y"]}],"mark":{"type":"line","color":"#1a1a1a","strokeWidth":2,"interpolate":"monotone","clip":true},"encoding":{"strokeDash":{"field":"s","type":"nominal","scale":{"domain":["男性","女性"],"range":[[1,0],[8,5]]},"legend":{"title":"性別","orient":"none","legendX":456,"legendY":346,"direction":"horizontal","titleOrient":"left","symbolType":"stroke","symbolStrokeWidth":2,"symbolSize":361,"symbolStrokeColor":"#1a1a1a","titlePadding":18,"columnPadding":12,"labelOffset":8}}}}
    ]},
   {"width":133,"height":126,"encoding":{"x":{"field":"x","type":"quantitative","scale":{"domain":[30.8,92.5],"nice":false,"zero":false},"axis":{"values":[40,50,60,70,80,90],"title":null}},"y":{"field":"y","type":"quantitative","scale":{"domain":[30.5,93],"nice":false,"zero":false},"axis":null}},
    "layer":[
     {"data":{"name":"pts"},"transform":[{"filter":"datum.p=='S65'"},{"flatten":["y","n"]}],"mark":{"type":"circle","size":60,"color":"#262626","clip":true},"encoding":{"opacity":{"field":"n","type":"quantitative","scale":{"domain":[1,7],"range":[0.13,0.9]},"legend":null}}},
     {"data":{"name":"lns"},"transform":[{"filter":"datum.p=='S65'"},{"flatten":["x","y"]}],"mark":{"type":"line","color":"#1a1a1a","strokeWidth":2,"interpolate":"monotone","clip":true},"encoding":{"strokeDash":{"field":"s","type":"nominal","scale":{"domain":["男性","女性"],"range":[[1,0],[8,5]]},"legend":{"title":"性別","orient":"none","legendX":456,"legendY":346,"direction":"horizontal","titleOrient":"left","symbolType":"stroke","symbolStrokeWidth":2,"symbolSize":361,"symbolStrokeColor":"#1a1a1a","titlePadding":18,"columnPadding":12,"labelOffset":8}}}}
    ]},
   {"width":133,"height":126,"encoding":{"x":{"field":"x","type":"quantitative","scale":{"domain":[30.8,92.5],"nice":false,"zero":false},"axis":{"values":[40,50,60,70,80,90],"title":null}},"y":{"field":"y","type":"quantitative","scale":{"domain":[30.5,93],"nice":false,"zero":false},"axis":null}},
    "layer":[
     {"data":{"name":"pts"},"transform":[{"filter":"datum.p=='S75'"},{"flatten":["y","n"]}],"mark":{"type":"circle","size":60,"color":"#262626","clip":true},"encoding":{"opacity":{"field":"n","type":"quantitative","scale":{"domain":[1,7],"range":[0.13,0.9]},"legend":null}}},
     {"data":{"name":"lns"},"transform":[{"filter":"datum.p=='S75'"},{"flatten":["x","y"]}],"mark":{"type":"line","color":"#1a1a1a","strokeWidth":2,"interpolate":"monotone","clip":true},"encoding":{"strokeDash":{"field":"s","type":"nominal","scale":{"domain":["男性","女性"],"range":[[1,0],[8,5]]},"legend":{"title":"性別","orient":"none","legendX":456,"legendY":346,"direction":"horizontal","titleOrient":"left","symbolType":"stroke","symbolStrokeWidth":2,"symbolSize":361,"symbolStrokeColor":"#1a1a1a","titlePadding":18,"columnPadding":12,"labelOffset":8}}}}
    ]},
   {"width":133,"height":126,"encoding":{"x":{"field":"x","type":"quantitative","scale":{"domain":[30.8,92.5],"nice":false,"zero":false},"axis":{"values":[40,50,60,70,80,90],"title":"父親職業的地位スコア"}},"y":{"field":"y","type":"quantitative","scale":{"domain":[30.5,93],"nice":false,"zero":false},"axis":null}},
    "layer":[
     {"data":{"name":"pts"},"transform":[{"filter":"datum.p=='S85'"},{"flatten":["y","n"]}],"mark":{"type":"circle","size":60,"color":"#262626","clip":true},"encoding":{"opacity":{"field":"n","type":"quantitative","scale":{"domain":[1,7],"range":[0.13,0.9]},"legend":null}}},
     {"data":{"name":"lns"},"transform":[{"filter":"datum.p=='S85'"},{"flatten":["x","y"]}],"mark":{"type":"line","color":"#1a1a1a","strokeWidth":2,"interpolate":"monotone","clip":true},"encoding":{"strokeDash":{"field":"s","type":"nominal","scale":{"domain":["男性","女性"],"range":[[1,0],[8,5]]},"legend":{"title":"性別","orient":"none","legendX":456,"legendY":346,"direction":"horizontal","titleOrient":"left","symbolType":"stroke","symbolStrokeWidth":2,"symbolSize":361,"symbolStrokeColor":"#1a1a1a","titlePadding":18,"columnPadding":12,"labelOffset":8}}}}
    ]},
   {"width":133,"height":126,"encoding":{"x":{"field":"x","type":"quantitative","scale":{"domain":[30.8,92.5],"nice":false,"zero":false},"axis":{"values":[40,50,60,70,80,90],"title":null}},"y":{"field":"y","type":"quantitative","scale":{"domain":[30.5,93],"nice":false,"zero":false},"axis":null}},
    "layer":[
     {"data":{"name":"pts"},"transform":[{"filter":"datum.p=='S95'"},{"flatten":["y","n"]}],"mark":{"type":"circle","size":60,"color":"#262626","clip":true},"encoding":{"opacity":{"field":"n","type":"quantitative","scale":{"domain":[1,7],"range":[0.13,0.9]},"legend":null}}},
     {"data":{"name":"lns"},"transform":[{"filter":"datum.p=='S95'"},{"flatten":["x","y"]}],"mark":{"type":"line","color":"#1a1a1a","strokeWidth":2,"interpolate":"monotone","clip":true},"encoding":{"strokeDash":{"field":"s","type":"nominal","scale":{"domain":["男性","女性"],"range":[[1,0],[8,5]]},"legend":{"title":"性別","orient":"none","legendX":456,"legendY":346,"direction":"horizontal","titleOrient":"left","symbolType":"stroke","symbolStrokeWidth":2,"symbolSize":361,"symbolStrokeColor":"#1a1a1a","titlePadding":18,"columnPadding":12,"labelOffset":8}}}}
    ]},
   {"width":133,"height":126,"encoding":{"x":{"field":"x","type":"quantitative","scale":{"domain":[30.8,92.5],"nice":false,"zero":false},"axis":{"values":[40,50,60,70,80,90],"title":null}},"y":{"field":"y","type":"quantitative","scale":{"domain":[30.5,93],"nice":false,"zero":false},"axis":null}},
    "layer":[
     {"data":{"name":"pts"},"transform":[{"filter":"datum.p=='S05'"},{"flatten":["y","n"]}],"mark":{"type":"circle","size":60,"color":"#262626","clip":true},"encoding":{"opacity":{"field":"n","type":"quantitative","scale":{"domain":[1,7],"range":[0.13,0.9]},"legend":null}}},
     {"data":{"name":"lns"},"transform":[{"filter":"datum.p=='S05'"},{"flatten":["x","y"]}],"mark":{"type":"line","color":"#1a1a1a","strokeWidth":2,"interpolate":"monotone","clip":true},"encoding":{"strokeDash":{"field":"s","type":"nominal","scale":{"domain":["男性","女性"],"range":[[1,0],[8,5]]},"legend":{"title":"性別","orient":"none","legendX":456,"legendY":346,"direction":"horizontal","titleOrient":"left","symbolType":"stroke","symbolStrokeWidth":2,"symbolSize":361,"symbolStrokeColor":"#1a1a1a","titlePadding":18,"columnPadding":12,"labelOffset":8}}}}
    ]},
   {"width":133,"height":126,"encoding":{"x":{"field":"x","type":"quantitative","scale":{"domain":[30.8,92.5],"nice":false,"zero":false},"axis":{"values":[40,50,60,70,80,90],"title":null}},"y":{"field":"y","type":"quantitative","scale":{"domain":[30.5,93],"nice":false,"zero":false},"axis":null}},
    "layer":[
     {"data":{"name":"pts"},"transform":[{"filter":"datum.p=='S15'"},{"flatten":["y","n"]}],"mark":{"type":"circle","size":60,"color":"#262626","clip":true},"encoding":{"opacity":{"field":"n","type":"quantitative","scale":{"domain":[1,7],"range":[0.13,0.9]},"legend":null}}},
     {"data":{"name":"lns"},"transform":[{"filter":"datum.p=='S15'"},{"flatten":["x","y"]}],"mark":{"type":"line","color":"#1a1a1a","strokeWidth":2,"interpolate":"monotone","clip":true},"encoding":{"strokeDash":{"field":"s","type":"nominal","scale":{"domain":["男性","女性"],"range":[[1,0],[8,5]]},"legend":{"title":"性別","orient":"none","legendX":456,"legendY":346,"direction":"horizontal","titleOrient":"left","symbolType":"stroke","symbolStrokeWidth":2,"symbolSize":361,"symbolStrokeColor":"#1a1a1a","titlePadding":18,"columnPadding":12,"labelOffset":8}}}}
    ]}
  ],"spacing":10,"bounds":"flush"},
  {"width":17,"height":126,"view":{"fill":"#d4d4d4","stroke":"#808080"},"data":{"values":[{"t":"社会経済指標"}]},"mark":{"type":"text","angle":90,"font":"Noto Sans CJK JP","fontSize":11.5,"color":"#1a1a1a"},"encoding":{"text":{"field":"t"}}}
 ],"spacing":-2}
],"spacing":4}
],
"spacing":5,
"config":{
 "font":"Noto Sans CJK JP",
 "view":{"stroke":"#808080"},
 "axis":{"grid":false,"domain":false,"tickSize":4,"tickColor":"#333333","labelFont":"Liberation Sans","labelFontSize":13,"labelColor":"#4d4d4d","labelPadding":2,"titleFont":"Noto Sans CJK JP","titleFontSize":15,"titleFontWeight":"normal","titleColor":"#1a1a1a","titlePadding":8},
 "legend":{"labelFont":"Noto Sans CJK JP","labelFontSize":13,"labelColor":"#1a1a1a","titleFont":"Noto Sans CJK JP","titleFontSize":13,"titleFontWeight":"normal","titleColor":"#1a1a1a"}
}
}
